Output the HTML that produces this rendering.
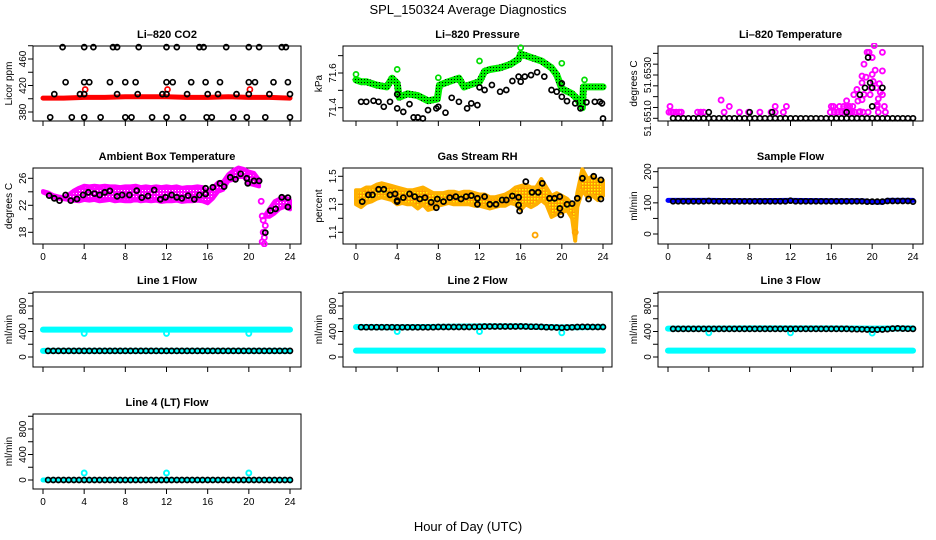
<!DOCTYPE html>
<html><head><meta charset="utf-8"><title>SPL_150324 Average Diagnostics</title>
<style>
html,body{margin:0;padding:0;background:#fff;}
svg{display:block;font-family:"Liberation Sans",Arial,sans-serif;}
</style></head>
<body>
<svg id="chart" width="936" height="540" viewBox="0 0 936 540" xmlns="http://www.w3.org/2000/svg">
<defs>
<pattern id="speckO" width="3" height="3" patternUnits="userSpaceOnUse"><rect width="3" height="3" fill="#ff9a00"/><rect x="0" y="0" width="1.5" height="1.5" fill="#ffff00"/></pattern>
<pattern id="speckG" width="3" height="3" patternUnits="userSpaceOnUse"><rect width="3" height="3" fill="#00ee00"/><rect x="1" y="1" width="1" height="1" fill="#000"/></pattern>
<pattern id="speckM" width="3" height="3" patternUnits="userSpaceOnUse"><rect width="3" height="3" fill="#ff00ff"/><rect x="1" y="1" width="1" height="1" fill="#ffffff"/></pattern>
</defs>
<text x="468" y="14" font-size="13" text-anchor="middle">SPL_150324  Average Diagnostics</text>
<text x="468" y="531" font-size="13" text-anchor="middle">Hour of Day (UTC)</text>
</svg>
<script>
// ---------- shared time grid ----------
const halfHours=[0.5,1,1.5,2,2.5,3,3.5,4,4.5,5,5.5,6,6.5,7,7.5,8,8.5,9,9.5,10,10.5,11,11.5,12,12.5,13,13.5,14,14.5,15,15.5,16,16.5,17,17.5,18,18.5,19,19.5,20,20.5,21,21.5,22,22.5,23,23.5,24];
const xTicks=[0,4,8,12,16,20,24];

// ---------- CO2 ----------
const co2BlackHours=[1.9,4,4.9,6.8,7.2,9.3,12,13,15.2,15.6,17.8,20,21,23.2,23.6, 2.2,4,4.5,6.5,8,9,12,12.6,14.4,15.8,17.2,20,20.6,22.4,23.8, 1.1,3.6,4,7.2,9.2,11.6,12,14,16,17,18.8,20,22,24, 0.7,2.8,4,5.6,8,8.6,10.6,12,13.6,15.9,16.4,18.5,19.8,21.6,24];
const co2BlackValues=[478,478,478,478,478,478,478,478,478,478,478,478,478,478,478, 425,425,425,425,425,425,425,425,425,425,425,425,425,425,425, 407,407,407,407,407,407,407,407,407,407,407,407,407,407, 372,372,372,372,372,372,372,372,372,372,372,372,372,372,372];
const co2RedHours=[0,2,4,6,8,10,12,14,16,18,20,22,24];
const co2RedValues=[401,401,402,402,403,403,403,402,402,403,402,402,401];
const co2RedOutHours=[4.1,12.1,20.1];
const co2RedOutValues=[414,414,414];

// ---------- Pressure ----------
const presGreenHours=[0,0.5,1,2,3,3.5,4,4.2,5,6,7,7.9,8.1,9,10,10.5,11,12,12.5,13,14,15,15.8,16,17,18,19,19.5,20,21,21.5,22,22.1,23,24];
const presGreenValues=[71.56,71.55,71.55,71.53,71.52,71.57,71.54,71.46,71.48,71.47,71.44,71.45,71.53,71.55,71.57,71.52,71.53,71.55,71.61,71.62,71.63,71.65,71.68,71.71,71.69,71.67,71.63,71.59,71.51,71.48,71.45,71.40,71.52,71.52,71.52];
const presGreenOutHours=[0,4,8,12,16,20,22.2];
const presGreenOutValues=[71.592,71.621,71.573,71.669,71.746,71.656,71.560];
const presBlackHours=[0.5,1,1.7,2.2,2.7,3.3,4,4,4.6,5.2,5.6,6,6.5,7,7.8,8,8.7,9.3,10,10.8,11.2,11.8,12,12.5,13.2,14,14.6,15.2,15.8,16,16.4,17,17.6,18.3,19,19.5,20,20,20.5,21.3,21.8,22.4,23.2,23.7,23.9,24];
const presBlackValues=[71.434,71.434,71.440,71.434,71.405,71.434,71.477,71.396,71.376,71.421,71.344,71.344,71.338,71.386,71.396,71.405,71.371,71.457,71.434,71.396,71.425,71.415,71.517,71.502,71.531,71.492,71.502,71.554,71.579,71.550,71.579,71.588,71.604,71.579,71.502,71.492,71.540,71.463,71.438,71.425,71.396,71.431,71.434,71.434,71.425,71.338];

// ---------- Li-820 Temperature ----------
const tempBaseValues=[51.6510,51.6510,51.6510,51.6510,51.6510,51.6510,51.6510,51.6510,51.6510,51.6510,51.6510,51.6510,51.6510,51.6510,51.6510,51.6510,51.6510,51.6510,51.6510,51.6510,51.6510,51.6510,51.6510,51.6510,51.6510,51.6510,51.6510,51.6510,51.6510,51.6510,51.6510,51.6510,51.6510,51.6510,51.6510,51.6510,51.6510,51.6510,51.6510,51.6510,51.6510,51.6510,51.6510,51.6510,51.6510,51.6510,51.6510,51.6510];
const tempMagHours=[0.1,0.3,0.5,0.8,1.1,1.3,2.9,3.2,3.5,5.5,7,7.9,9,10.1,10.5,11.3,15.9,16.3,16.6,17,17.3,17.7,18,18.3,18.7,19.1,19.6,20.6,21.3, 0.2,6,10.5,11.6,16,16.2,16.8,17.2,17.5,17.8,18.1,20.5,21.2, 5.2,17.5,18.2,18.5,19,19,19.2,19.5,19.7,20,20,20.2,20.4,20.3,21,21,19.8,20.5,21,19,18.8,19.4,19.9,20.6,20.8,19.2,18.6,20.1,20.7];
const tempMagValues=[51.65128,51.65128,51.65128,51.65128,51.65128,51.65128,51.65128,51.65128,51.65128,51.65128,51.65128,51.65128,51.65128,51.65128,51.65128,51.65128,51.65128,51.65128,51.65128,51.65128,51.65128,51.65128,51.65128,51.65128,51.65128,51.65128,51.65128,51.65128,51.65128, 51.65155,51.65155,51.65155,51.65155,51.65155,51.65155,51.65155,51.65155,51.65155,51.65155,51.65155,51.65155,51.65155, 51.65184,51.65181,51.65209,51.65233,51.65264,51.65295,51.6535,51.65405,51.65405,51.65381,51.65303,51.65436,51.65241,51.65322,51.65405,51.65319,51.65209,51.65163,51.65209,51.65186,51.65131,51.6529,51.6524,51.6519,51.6522,51.6521,51.6518,51.6527,51.6526];
const tempBlackExtraHours=[4,8,10.2,17.5,18.8,19.3,19.6,19.8,20,20,21];
const tempBlackExtraValues=[51.65128,51.65128,51.65128,51.65128,51.65209,51.65241,51.65381,51.65264,51.65241,51.65155,51.65241];

// ---------- Ambient Box Temperature ----------
const ambBandHours=[0,0.5,1,1.5,2,2.5,3,3.5,4,4.5,5,5.5,6,6.5,7,7.5,8,8.5,9,9.5,10,10.5,11,11.5,12,12.5,13,13.5,14,14.5,15,15.5,16,16.5,17,17.5,18,18.5,19,19.5,20,20.5,21];
const ambBandLow=[23.9,23.6,23.2,23.0,22.9,22.8,22.7,22.6,22.8,22.7,22.8,22.6,22.7,22.8,22.6,22.7,22.6,22.6,22.8,22.6,22.7,22.6,22.7,22.5,22.6,22.6,22.7,22.5,22.6,22.6,22.7,22.6,22.3,23.0,24.0,24.3,25.6,25.8,26.2,26.2,25.2,25.0,24.8];
const ambBandHigh=[24.1,23.9,23.5,23.3,23.2,23.6,24.2,24.6,24.9,24.8,24.9,24.8,24.9,24.8,24.8,24.7,24.8,24.8,24.9,24.7,24.8,24.7,24.8,24.7,24.8,24.7,24.8,24.6,24.7,24.7,24.8,24.7,24.0,24.6,25.4,25.5,26.6,27.2,27.6,27.4,27.0,26.8,25.8];
const ambBand2Hours=[21.6,22,22.5,23,23.5,24];
const ambBand2Low=[20.3,20.3,20.8,21.5,21.8,21.4];
const ambBand2High=[20.6,21.5,22.6,23.0,23.2,22.8];
const ambMagOutHours=[21.2,21.3,21.4,21.4,21.5,21.5,21.6,21.3];
const ambMagOutValues=[22.6,20.4,19.8,18.0,17.2,16.3,19.0,16.6];
const ambBlackHours=[0.6,1.1,1.6,2.2,2.7,3.3,3.9,4.4,5,5.5,6,6.5,7.2,7.7,8.4,9.1,9.6,10.2,10.8,11.4,11.9,12.5,13,13.5,14.1,14.7,15.2,15.8,15.8,16.5,17.2,17.6,18.2,18.7,19.2,19.8,19.9,20.5,21,21.6,22.1,22.6,23.2,23.8,23.8];
const ambBlackValues=[23.43,23.04,22.69,23.53,22.69,22.94,23.53,23.93,23.73,23.53,23.93,24.13,23.34,23.53,23.53,24.18,23.14,23.38,24.27,22.89,23.19,23.53,23.19,23.04,23.43,22.89,23.53,24.52,23.68,24.67,25.26,24.77,26.15,25.85,26.65,26.0,25.26,25.61,25.61,17.95,21.21,21.46,23.19,23.14,21.75];

// ---------- Gas Stream RH ----------
const rhBandHours=[0,0.5,1,1.5,2,2.5,3,3.5,4,4.5,5,5.5,6,6.5,7,7.5,8,8.5,9,9.5,10,10.5,11,11.5,12,12.5,13,13.5,14,14.5,15,15.5,16,16.5,17,17.5,18,18.5,19,19.5,20,20.5,21,21.3,21.5,22,22.5,23,23.5,24];
const rhBandLow=[1.30,1.28,1.31,1.32,1.34,1.35,1.34,1.33,1.30,1.31,1.30,1.30,1.27,1.30,1.26,1.27,1.29,1.30,1.31,1.30,1.30,1.30,1.30,1.29,1.29,1.28,1.27,1.28,1.29,1.29,1.31,1.30,1.26,1.30,1.28,1.30,1.33,1.30,1.21,1.23,1.24,1.26,1.20,1.04,1.28,1.40,1.35,1.36,1.33,1.36];
const rhBandHigh=[1.40,1.40,1.42,1.42,1.44,1.45,1.44,1.43,1.42,1.41,1.40,1.40,1.41,1.42,1.40,1.38,1.38,1.38,1.39,1.39,1.38,1.39,1.39,1.38,1.37,1.37,1.35,1.35,1.36,1.37,1.39,1.42,1.43,1.44,1.42,1.42,1.48,1.42,1.36,1.38,1.36,1.34,1.30,1.26,1.38,1.55,1.48,1.50,1.47,1.47];
const rhOutHours=[17.4,21.3];
const rhOutValues=[1.08,1.10];
const rhBlackHours=[0.6,1.2,1.6,2.2,2.7,3.3,3.8,4,4,4.6,5.2,5.7,6.2,6.7,7.3,7.8,7.9,8.5,9.1,9.7,10.2,10.7,11.2,11.8,11.8,12.5,13,13.6,14.2,14.6,15.2,15.8,15.8,15.9,16.5,17.1,17.7,18.1,18.8,19.3,19.8,19.8,19.9,20.5,21,21.5,22,22.6,23.1,23.8,23.8];
const rhBlackValues=[1.319,1.367,1.367,1.407,1.407,1.367,1.374,1.326,1.319,1.348,1.374,1.355,1.338,1.348,1.314,1.276,1.338,1.319,1.348,1.355,1.338,1.355,1.362,1.343,1.300,1.355,1.300,1.300,1.331,1.331,1.359,1.350,1.295,1.252,1.462,1.386,1.386,1.450,1.343,1.343,1.355,1.271,1.224,1.300,1.305,1.343,1.486,1.338,1.500,1.474,1.338];

// ---------- Sample Flow ----------
const sfBlueHours=[0,4,8,12,16,19,20,21,21.5,22,24];
const sfBlueValues=[108,108,107,108,107,107,103,102,108,108,108];
const sfBlackValues=[105,105,105,105,105,105,105,106,105,105,105,105,105,105,105,105,105,105,105,105,105,105,105,107,105,105,105,105,105,105,105,105,105,105,105,105,105,105,104,104,104,104,106,106,106,106,106,104];

// ---------- Line flows ----------
const flowBandHours=[0,4,8,12,16,20,24];
const line1CyanHigh=[430,430,430,430,430,430,430];
const line1CyanLow=[96,96,96,96,96,96,96];
const line1BlackValues=[96,96,96,96,96,96,96,96,96,96,96,96,96,96,96,96,96,96,96,96,96,96,96,96,96,96,96,96,96,96,96,96,96,96,96,96,96,96,96,96,96,96,96,96,96,96,96,96];
const line1OutValues=[370,370,370];
const line2CyanHigh=[470,468,472,480,480,465,472];
const line2CyanLow=[100,100,100,100,100,100,100];
const line2BlackValues=[468,468,468,468,468,468,468,466,466,466,466,466,466,466,468,470,470,470,470,470,470,470,472,475,478,478,478,478,478,478,478,480,478,476,476,472,468,466,462,460,462,466,470,472,472,470,470,470];
const line2OutValues=[400,400,380];
const line3CyanHigh=[445,445,448,448,448,445,448];
const line3CyanLow=[100,100,100,100,100,100,100];
const line3BlackValues=[440,440,440,440,440,440,440,440,440,440,440,440,440,440,440,440,440,440,440,440,440,440,440,440,440,440,440,440,440,440,440,440,440,440,440,438,436,434,432,430,430,432,438,445,448,446,442,440];
const line3OutValues=[380,380,375];
const line4CyanValues=[0,0,0,0,0,0,0];
const line4BlackValues=[0,0,0,0,0,0,0,0,0,0,0,0,0,0,0,0,0,0,0,0,0,0,0,0,0,0,0,0,0,0,0,0,0,0,0,0,0,0,0,0,0,0,0,0,0,0,0,0];
const line4OutValues=[110,110,110];
const flowOutHours=[4,12,20];

// ---------- layout ----------
const NS="http://www.w3.org/2000/svg";
const svg=document.getElementById('chart');
const cols=[{l:33,r:301,x0:43,x24:290},{l:343,r:612,x0:356,x24:603},{l:658,r:923,x0:668,x24:913}];
const rows=[{t:46,b:121},{t:168,b:244},{t:292,b:367},{t:414,b:489}];

function mk(tag,attrs,parent){const e=document.createElementNS(NS,tag);for(const k in attrs)e.setAttribute(k,attrs[k]);(parent||svg).appendChild(e);return e;}

function makePanel(o){
  const c=cols[o.col],r=rows[o.row];
  const g=mk('g',{});
  
  
  const xs=h=>c.x0+(h/24)*(c.x24-c.x0);
  const ys=v=>o.p1+(v-o.v1)*(o.p2-o.p1)/(o.v2-o.v1);
  const box=mk('rect',{x:c.l,y:r.t,width:c.r-c.l,height:r.b-r.t,fill:'none',stroke:'#000','stroke-width':1},g);
  
  
  const title=mk('text',{x:(c.l+c.r)/2,y:r.t-8,'font-size':11,'font-weight':'bold','text-anchor':'middle'},g);
  title.textContent=o.title;
  
  
  const yl=mk('text',{transform:`translate(${c.l-21},${(r.t+r.b)/2}) rotate(-90)`,'font-size':10,'text-anchor':'middle'},g);
  yl.textContent=o.ylab;
  
  
  xTicks.forEach(h=>{
    const t=mk('line',{x1:xs(h),x2:xs(h),y1:r.b,y2:r.b+5,stroke:'#000'},g);
    
    
    if(o.xlabels){
      const tx=mk('text',{x:xs(h),y:r.b+16,'font-size':10,'text-anchor':'middle'},g);
      tx.textContent=h;
      
      
    }
  });
  o.yticks.forEach(v=>{
    const t=mk('line',{x1:c.l-5,x2:c.l,y1:ys(v),y2:ys(v),stroke:'#000'},g);
    
    
  });
  o.ylabels.forEach((v,i)=>{
    const tx=mk('text',{transform:`translate(${c.l-7},${ys(v)}) rotate(-90)`,'font-size':10,'text-anchor':'middle'},g);
    tx.textContent=o.ylabelText?o.ylabelText[i]:String(v);
    
    
  });
  const clip='clip'+o.col+o.row;
  const cp=mk('clipPath',{id:clip},g);
  mk('rect',{x:c.l-3,y:r.t-3,width:c.r-c.l+6,height:r.b-r.t+6},cp);
  const pg=mk('g',{'clip-path':`url(#${clip})`},g);
  
  
  return {g:pg,xs,ys};
}
function line(P,hours,vals,color,w,name){
  const pts=hours.map((h,i)=>P.xs(h).toFixed(1)+','+P.ys(vals[i]).toFixed(1)).join(' ');
  const e=mk('polyline',{points:pts,fill:'none',stroke:color,'stroke-width':w,'stroke-linejoin':'round','stroke-linecap':'round'},P.g);
  
  
}
function band(P,hours,lo,hi,fill,edge,name){
  let d='M'+hours.map((h,i)=>P.xs(h).toFixed(1)+','+P.ys(hi[i]).toFixed(1)).join('L');
  for(let i=hours.length-1;i>=0;i--)d+='L'+P.xs(hours[i]).toFixed(1)+','+P.ys(lo[i]).toFixed(1);
  d+='Z';
  const e=mk('path',{d,fill,stroke:edge,'stroke-width':4,'stroke-linejoin':'round'},P.g);
  
  
}
function pts(P,hours,vals,color,name,sw){
  hours.forEach((h,i)=>{
    const e=mk('circle',{cx:P.xs(h).toFixed(1),cy:P.ys(vals[i]).toFixed(1),r:2.5,fill:'none',stroke:color,'stroke-width':sw||1.7},P.g);
    
    
  });
}

// Li-820 CO2
let P=makePanel({name:'panel-co2',col:0,row:0,title:'Li–820 CO2',ylab:'Licor ppm',v1:380,p1:112,v2:460,p2:59,yticks:[380,400,420,440,460,480],ylabels:[380,420,460]});
line(P,co2RedHours,co2RedValues,'#ff0000',5,'co2-red-series');
pts(P,co2RedOutHours,co2RedOutValues,'#ff0000','co2-red-point');
pts(P,co2BlackHours,co2BlackValues,'#000','co2-black-point');

// Pressure
P=makePanel({name:'panel-pressure',col:1,row:0,title:'Li–820 Pressure',ylab:'kPa',v1:71.4,p1:107.7,v2:71.6,p2:73,yticks:[71.4,71.5,71.6,71.7],ylabels:[71.4,71.6]});
line(P,presGreenHours,presGreenValues,'url(#speckG)',7,'pressure-green-series');
pts(P,presGreenOutHours,presGreenOutValues,'#00dd00','pressure-green-point');
pts(P,presBlackHours,presBlackValues,'#000','pressure-black-point');

// Li-820 Temperature
P=makePanel({name:'panel-li820-temperature',col:2,row:0,title:'Li–820 Temperature',ylab:'degrees C',v1:51.651,p1:118.3,v2:51.653,p2:75,yticks:[51.651,51.6515,51.652,51.6525,51.653,51.6535,51.654],ylabels:[51.651,51.653],ylabelText:['51.6510','51.6530']});
pts(P,tempMagHours,tempMagValues,'#ff00ff','temp-magenta-point',1.9);
pts(P,halfHours,tempBaseValues,'#000','temp-black-point');
pts(P,tempBlackExtraHours,tempBlackExtraValues,'#000','temp-black-point');

// Ambient Box Temperature
P=makePanel({name:'panel-ambient-temperature',col:0,row:1,title:'Ambient Box Temperature',ylab:'degrees C',v1:18,p1:232.3,v2:26,p2:178.3,yticks:[18,20,22,24,26],ylabels:[18,22,26],xlabels:true});
band(P,ambBandHours,ambBandLow,ambBandHigh,'url(#speckM)','#ff00ff','ambient-magenta-band');
band(P,ambBand2Hours,ambBand2Low,ambBand2High,'url(#speckM)','#ff00ff','ambient-magenta-band-late');
pts(P,ambMagOutHours,ambMagOutValues,'#ff00ff','ambient-magenta-point',1.9);
pts(P,ambBlackHours,ambBlackValues,'#000','ambient-black-point',1.8);

// Gas Stream RH
P=makePanel({name:'panel-gas-rh',col:1,row:1,title:'Gas Stream RH',ylab:'percent',v1:1.1,p1:232.3,v2:1.5,p2:176.3,yticks:[1.1,1.2,1.3,1.4,1.5],ylabels:[1.1,1.3,1.5],xlabels:true});
band(P,rhBandHours,rhBandLow,rhBandHigh,'url(#speckO)','#ffb000','rh-orange-band');
pts(P,rhOutHours,rhOutValues,'#ffa500','rh-orange-point',1.9);
pts(P,rhBlackHours,rhBlackValues,'#000','rh-black-point',1.8);

// Sample Flow
P=makePanel({name:'panel-sample-flow',col:2,row:1,title:'Sample Flow',ylab:'ml/min',v1:0,p1:234,v2:200,p2:171.7,yticks:[0,50,100,150,200],ylabels:[0,100,200],xlabels:true});
line(P,sfBlueHours,sfBlueValues,'#0000ff',5,'sample-flow-blue-series');
pts(P,halfHours,sfBlackValues,'#000','sample-flow-black-point');

// Line flows
const flowTicks=[0,200,400,600,800,1000],flowLabels=[0,400,800];
P=makePanel({name:'panel-line1-flow',col:0,row:2,title:'Line 1 Flow',ylab:'ml/min',v1:0,p1:357,v2:800,p2:306,yticks:flowTicks,ylabels:flowLabels});
line(P,flowBandHours,line1CyanHigh,'#00ffff',6,'line1-cyan-high');
line(P,flowBandHours,line1CyanLow,'#00ffff',6,'line1-cyan-low');
pts(P,flowOutHours,line1OutValues,'#00ffff','line1-cyan-point',1.9);
pts(P,halfHours,line1BlackValues,'#000','line1-black-point');

P=makePanel({name:'panel-line2-flow',col:1,row:2,title:'Line 2 Flow',ylab:'ml/min',v1:0,p1:357,v2:800,p2:306,yticks:flowTicks,ylabels:flowLabels});
line(P,flowBandHours,line2CyanHigh,'#00ffff',6,'line2-cyan-high');
line(P,flowBandHours,line2CyanLow,'#00ffff',6,'line2-cyan-low');
pts(P,flowOutHours,line2OutValues,'#00ffff','line2-cyan-point',1.9);
pts(P,halfHours,line2BlackValues,'#000','line2-black-point');

P=makePanel({name:'panel-line3-flow',col:2,row:2,title:'Line 3 Flow',ylab:'ml/min',v1:0,p1:357,v2:800,p2:306,yticks:flowTicks,ylabels:flowLabels});
line(P,flowBandHours,line3CyanHigh,'#00ffff',6,'line3-cyan-high');
line(P,flowBandHours,line3CyanLow,'#00ffff',6,'line3-cyan-low');
pts(P,flowOutHours,line3OutValues,'#00ffff','line3-cyan-point',1.9);
pts(P,halfHours,line3BlackValues,'#000','line3-black-point');

P=makePanel({name:'panel-line4-flow',col:0,row:3,title:'Line 4 (LT) Flow',ylab:'ml/min',v1:0,p1:480,v2:800,p2:429,yticks:flowTicks,ylabels:flowLabels,xlabels:true});
line(P,flowBandHours,line4CyanValues,'#00ffff',5,'line4-cyan-series');
pts(P,flowOutHours,line4OutValues,'#00ffff','line4-cyan-point',1.9);
pts(P,halfHours,line4BlackValues,'#000','line4-black-point');
</script>
</body></html>
